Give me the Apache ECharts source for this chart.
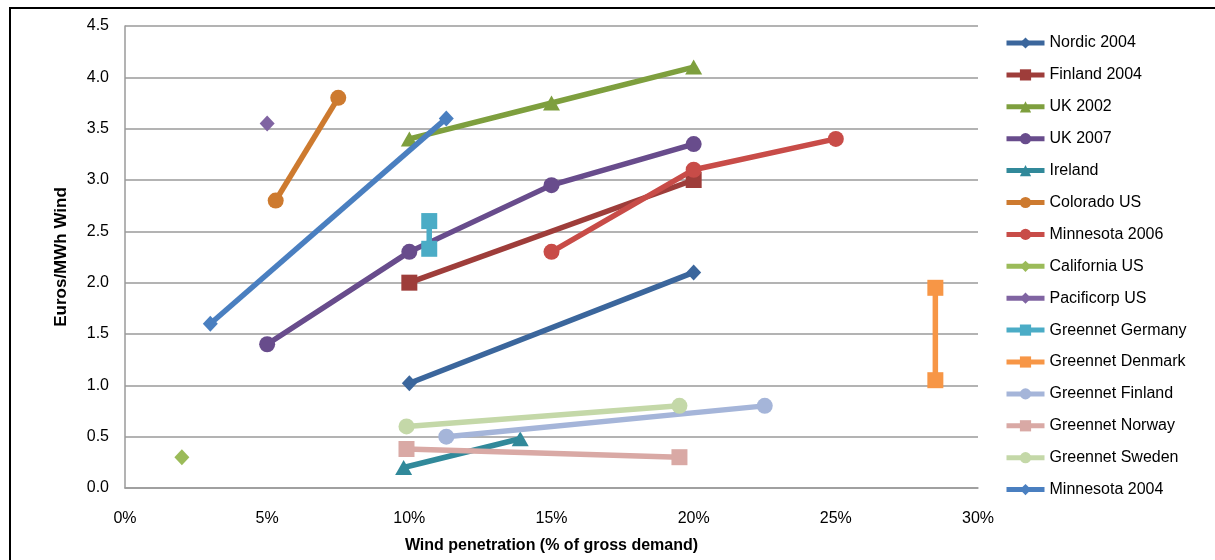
<!DOCTYPE html>
<html>
<head>
<meta charset="utf-8">
<script src="https://cdn.jsdelivr.net/npm/echarts@6/dist/echarts.min.js"></script>
<style>
html,body{margin:0;padding:0;background:#fff;}
#chart{width:1215px;height:560px;}
</style>
</head>
<body>
<div id="chart"></div>
<script>
// ---- Data (x = wind penetration %, y = Euros/MWh wind) ----
const seriesNames = ["Nordic 2004","Finland 2004","UK 2002","UK 2007","Ireland","Colorado US","Minnesota 2006","California US","Pacificorp US","Greennet Germany","Greennet Denmark","Greennet Finland","Greennet Norway","Greennet Sweden","Minnesota 2004"];
const nordic2004      = [[10, 1.02], [20, 2.1]];
const finland2004     = [[10, 2.0], [20, 3.0]];
const uk2002          = [[10, 3.4], [15, 3.75], [20, 4.1]];
const uk2007          = [[5, 1.4], [10, 2.3], [15, 2.95], [20, 3.35]];
const ireland         = [[9.8, 0.2], [13.9, 0.48]];
const coloradoUS      = [[5.3, 2.8], [7.5, 3.8]];
const minnesota2006   = [[15, 2.3], [20, 3.1], [25, 3.4]];
const californiaUS    = [[2, 0.3]];
const pacificorpUS    = [[5, 3.55]];
const greennetGermany = [[10.7, 2.6], [10.7, 2.33]];
const greennetDenmark = [[28.5, 1.95], [28.5, 1.05]];
const greennetFinland = [[11.3, 0.5], [22.5, 0.8]];
const greennetNorway  = [[9.9, 0.38], [19.5, 0.3]];
const greennetSweden  = [[9.9, 0.6], [19.5, 0.8]];
const minnesota2004   = [[3, 1.6], [11.3, 3.6]];
const xTicks = [0, 5, 10, 15, 20, 25, 30];
const yTicks = [0, 0.5, 1, 1.5, 2, 2.5, 3, 3.5, 4, 4.5];

const allData = [nordic2004, finland2004, uk2002, uk2007, ireland, coloradoUS, minnesota2006, californiaUS, pacificorpUS, greennetGermany, greennetDenmark, greennetFinland, greennetNorway, greennetSweden, minnesota2004];
const colors = ["#3B669C","#9E3D3A","#7E9F3E","#684C8C","#31899A","#CD7A2F","#C84C48","#9BBB59","#8064A2","#4BACC6","#F79646","#A5B5D9","#D9A9A5","#C4D8A8","#4A7FC0"];
const symbols = ["diamond","rect","triangle","circle","triangle","circle","circle","diamond","diamond","rect","rect","circle","rect","circle","diamond"];
const symSize = {diamond:[15,16], rect:[16,16], triangle:[17,15], circle:[16,16]};

const FONT = "'Liberation Sans', Arial, sans-serif";

const series = seriesNames.map((n, i) => ({
  name: n,
  type: 'line',
  data: allData[i],
  symbol: symbols[i],
  symbolSize: symSize[symbols[i]],
  showAllSymbol: true,
  color: colors[i],
  lineStyle: { width: 5.5, color: colors[i] },
  itemStyle: { color: colors[i] },
  emphasis: { disabled: true },
  animation: false,
  z: 2 + i
}));

const chart = echarts.init(document.getElementById('chart'), null, { renderer: 'canvas' });
chart.setOption({
  animation: false,
  backgroundColor: '#ffffff',
  textStyle: { fontFamily: FONT },
  grid: { left: 125, right: 237, top: 26, bottom: 72, containLabel: false },
  graphic: [{
    type: 'rect',
    left: 7.5, top: 5.5,
    shape: { width: 1300, height: 700 },
    style: { fill: 'none', stroke: '#000', lineWidth: 2 },
    silent: true, z: 100
  }],
  xAxis: {
    type: 'value',
    min: xTicks[0], max: xTicks[xTicks.length - 1], interval: 5,
    name: 'Wind penetration (% of gross demand)',
    nameLocation: 'middle', nameGap: 50,
    nameTextStyle: { fontFamily: FONT, fontWeight: 'bold', fontSize: 16, color: '#000' },
    axisLine: { show: true, lineStyle: { color: '#9a9a9a', width: 1.5 } },
    axisTick: { show: false },
    splitLine: { show: false },
    axisLabel: { formatter: v => v + '%', fontFamily: FONT, fontSize: 16, color: '#000', margin: 23 }
  },
  yAxis: {
    type: 'value',
    min: yTicks[0], max: yTicks[yTicks.length - 1], interval: 0.5,
    name: 'Euros/MWh Wind',
    nameLocation: 'middle', nameGap: 55,
    nameTextStyle: { fontFamily: FONT, fontWeight: 'bold', fontSize: 17, color: '#000' },
    axisLine: { show: true, lineStyle: { color: '#9a9a9a', width: 1.5 } },
    axisTick: { show: false },
    splitLine: { show: true, lineStyle: { color: '#9a9a9a', width: 1.5 } },
    axisLabel: { formatter: v => v.toFixed(1), fontFamily: FONT, fontSize: 16, color: '#000', margin: 16 }
  },
  legend: {
    orient: 'vertical',
    left: 999, top: 30,
    itemWidth: 38, itemHeight: 14, itemGap: 15.9,
    lineStyle: { width: 5 },
    textStyle: { fontFamily: FONT, fontSize: 16, color: '#000', lineHeight: 16 },
    data: seriesNames,
    selectedMode: false
  },
  series: series
});
</script>
</body>
</html>
